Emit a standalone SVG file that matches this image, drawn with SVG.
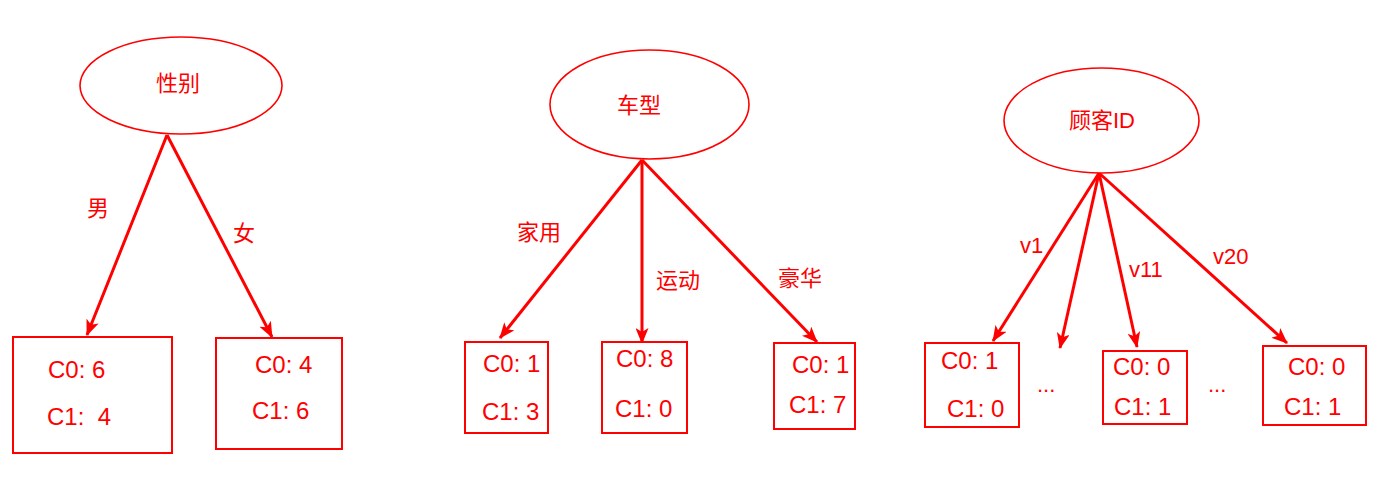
<svg xmlns="http://www.w3.org/2000/svg" width="1397" height="487" viewBox="0 0 1397 487">
<style>
.el{fill:#fff;stroke:#ff0000;stroke-width:1.6}
.bx{fill:#fff;stroke:#ff0000;stroke-width:2}
.t{fill:#ff0000;font-family:"Liberation Sans","Noto Sans CJK SC",sans-serif;font-size:22px}
.n{font-size:24px}
.c{text-anchor:middle;dominant-baseline:central}
.e{stroke:#ff0000;stroke-width:3;fill:none;marker-end:url(#ah)}
</style>
<defs>
<marker id="ah" markerUnits="userSpaceOnUse" viewBox="0 0 16 13" refX="15" refY="6.5" markerWidth="16" markerHeight="13" orient="auto">
<path d="M0,0 L16,6.5 L0,13 L4,6.5 z" fill="#ff0000"/>
</marker>
</defs>
<rect width="1397" height="487" fill="#fff"/>
<g id="connectors">
<line class="e" x1="167" y1="135" x2="87" y2="335"/>
<line class="e" x1="167" y1="135" x2="272" y2="337"/>
<line class="e" x1="642" y1="160" x2="500" y2="338"/>
<line class="e" x1="642" y1="160" x2="642" y2="343"/>
<line class="e" x1="642" y1="160" x2="817" y2="342"/>
<line class="e" x1="1099" y1="173" x2="993" y2="341"/>
<line class="e" x1="1099" y1="173" x2="1060" y2="348"/>
<line class="e" x1="1099" y1="173" x2="1137" y2="347"/>
<line class="e" x1="1099" y1="173" x2="1287" y2="343"/>
<text class="t c" x="98" y="208">男</text>
<text class="t c" x="244" y="233">女</text>
<text class="t c" x="539" y="232">家用</text>
<text class="t c" x="678" y="280">运动</text>
<text class="t c" x="800" y="278">豪华</text>
<text class="t" x="1020" y="253">v1</text>
<text class="t" x="1129" y="277">v11</text>
<text class="t" x="1213" y="264">v20</text>
</g>
<g id="n-gender">
<ellipse class="el" cx="181" cy="85.5" rx="101" ry="48.5"/>
<text class="t c" x="178" y="83">性别</text>
</g>
<g id="n-male">
<rect class="bx" x="13" y="337" width="159" height="116"/>
<text class="t n" x="48" y="378">C0: 6</text>
<text class="t n" x="47" y="425">C1:&#160; 4</text>
</g>
<g id="n-female">
<rect class="bx" x="216" y="338" width="126" height="111"/>
<text class="t n" x="255" y="373">C0: 4</text>
<text class="t n" x="252" y="419">C1: 6</text>
</g>
<g id="n-car">
<ellipse class="el" cx="649.5" cy="104.5" rx="99.5" ry="54.5"/>
<text class="t c" x="639" y="105">车型</text>
</g>
<g id="n-family">
<rect class="bx" x="465" y="342" width="83" height="91"/>
<text class="t n" x="483" y="372">C0: 1</text>
<text class="t n" x="482" y="420">C1: 3</text>
</g>
<g id="n-sport">
<rect class="bx" x="602" y="342" width="85" height="91"/>
<text class="t n" x="616" y="367">C0: 8</text>
<text class="t n" x="615" y="417">C1: 0</text>
</g>
<g id="n-luxury">
<rect class="bx" x="774" y="343" width="81" height="86"/>
<text class="t n" x="792" y="373">C0: 1</text>
<text class="t n" x="789" y="413">C1: 7</text>
</g>
<g id="n-cid">
<ellipse class="el" cx="1101.5" cy="120.5" rx="97.5" ry="52.5"/>
<text class="t c" x="1102" y="120">顾客ID</text>
</g>
<g id="n-v1">
<rect class="bx" x="925" y="343" width="94" height="84"/>
<text class="t n" x="941" y="369">C0: 1</text>
<text class="t n" x="947" y="417">C1: 0</text>
</g>
<text class="t" x="1037" y="392">...</text>
<g id="n-v11">
<rect class="bx" x="1103" y="351" width="84" height="73"/>
<text class="t n" x="1113" y="375">C0: 0</text>
<text class="t n" x="1114" y="415">C1: 1</text>
</g>
<text class="t" x="1208" y="392">...</text>
<g id="n-v20">
<rect class="bx" x="1263" y="346" width="103" height="79"/>
<text class="t n" x="1288" y="375">C0: 0</text>
<text class="t n" x="1284" y="415">C1: 1</text>
</g>
</svg>
